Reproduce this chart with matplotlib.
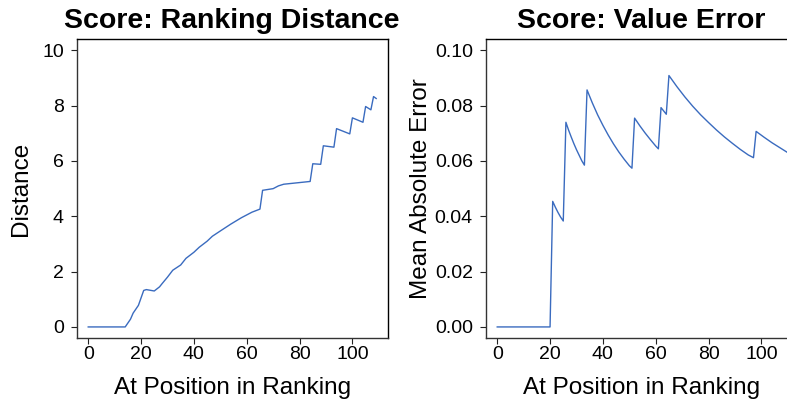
import matplotlib
matplotlib.use("Agg")
import matplotlib.pyplot as plt

plt.rcParams["font.family"] = ["Liberation Sans", "DejaVu Sans"]

# Ranking distance by position
dist_pos = [0, 14, 16, 17, 19, 21, 22, 25, 27, 28, 30, 32, 35, 37, 40, 42, 45, 47,
            50, 54, 58, 62, 65, 66, 70, 72, 74, 78, 84, 85, 88, 89, 93, 94, 99,
            100, 104, 105, 107, 108, 109]
dist_val = [0, 0, 0.28, 0.5, 0.78, 1.32, 1.35, 1.30, 1.45, 1.57, 1.8, 2.05, 2.24,
            2.48, 2.7, 2.88, 3.1, 3.28, 3.47, 3.72, 3.95, 4.15, 4.26, 4.94, 5.0,
            5.1, 5.16, 5.2, 5.26, 5.9, 5.88, 6.55, 6.5, 7.17, 6.98, 7.56, 7.4,
            7.97, 7.85, 8.33, 8.26]

# Mean absolute value error by position
mae_pos = [0, 20, 21, 22, 23, 24, 25, 26, 27, 28, 29, 30, 31, 32, 33, 34, 36, 38,
           40, 42, 44, 46, 48, 50, 51, 52, 54, 56, 58, 60, 61, 62, 63, 64, 65, 68,
           71, 74, 77, 80, 83, 86, 89, 92, 95, 97, 98, 101, 104, 107, 110]
mae_val = [0, 0, 0.0454, 0.0433, 0.0414, 0.0397, 0.0383, 0.0740, 0.0712, 0.0687,
           0.0663, 0.0641, 0.0621, 0.0601, 0.0585, 0.0857, 0.0810, 0.0767, 0.0729,
           0.0694, 0.0662, 0.0633, 0.0607, 0.0583, 0.0574, 0.0755, 0.0727, 0.0701,
           0.0677, 0.0654, 0.0644, 0.0793, 0.0781, 0.0769, 0.0909, 0.0869, 0.0832,
           0.0798, 0.0767, 0.0739, 0.0712, 0.0687, 0.0664, 0.0642, 0.0622, 0.0612,
           0.0707, 0.0686, 0.0666, 0.0648, 0.0630]

x_ticks = [0, 20, 40, 60, 80, 100]
dist_ticks = [0, 2, 4, 6, 8, 10]
mae_ticks = [0.00, 0.02, 0.04, 0.06, 0.08, 0.10]

line_color = "#3a6bbf"
W, H = 787, 401
fig = plt.figure(figsize=(W / 100, H / 100), dpi=100)

ax_w = 311 / W
ax_h = 298.7 / H
ax_b = 63 / H
ax1 = fig.add_axes([76.7 / W, ax_b, ax_w, ax_h])
ax2 = fig.add_axes([485.7 / W, ax_b, ax_w, ax_h])


def style(ax, yticks, ylabels, ylim, title, ylabel, ylabel_x):
    ax.set_xlim(-4.36, 113.36)
    ax.set_ylim(*ylim)
    ax.set_xticks(x_ticks)
    ax.set_xticklabels([str(t) for t in x_ticks])
    ax.set_yticks(yticks)
    ax.set_yticklabels(ylabels)
    ax.tick_params(direction="out", length=4.3, width=0.8, labelsize=14,
                   colors="#222222", labelcolor="black")
    ax.tick_params(axis="x", pad=1.5)
    ax.tick_params(axis="y", pad=5)
    for side in ["top", "right"]:
        ax.spines[side].set_color("black")
        ax.spines[side].set_linewidth(1.0)
    for side in ["left", "bottom"]:
        ax.spines[side].set_color("#333333")
        ax.spines[side].set_linewidth(1.0)
    ax.set_title(title, fontsize=20.5, fontweight="bold", pad=8)
    ax.set_xlabel("At Position in Ranking", fontsize=17.5, va="baseline")
    ax.xaxis.set_label_coords(0.5, -0.1875)
    ax.set_ylabel(ylabel, fontsize=17.5, va="center")
    ax.yaxis.set_label_coords(ylabel_x, 0.5)


ax1.plot(dist_pos, dist_val, color=line_color, lw=1.0)
style(ax1, dist_ticks, [str(t) for t in dist_ticks], (-0.4, 10.4),
      "Score: Ranking Distance", "Distance", -0.1775)

ax2.plot(mae_pos, mae_val, color=line_color, lw=1.0)
style(ax2, mae_ticks, ["%.2f" % t for t in mae_ticks], (-0.004, 0.104),
      "Score: Value Error", "Mean Absolute Error", -0.208)

fig.savefig("out.png", dpi=100)
